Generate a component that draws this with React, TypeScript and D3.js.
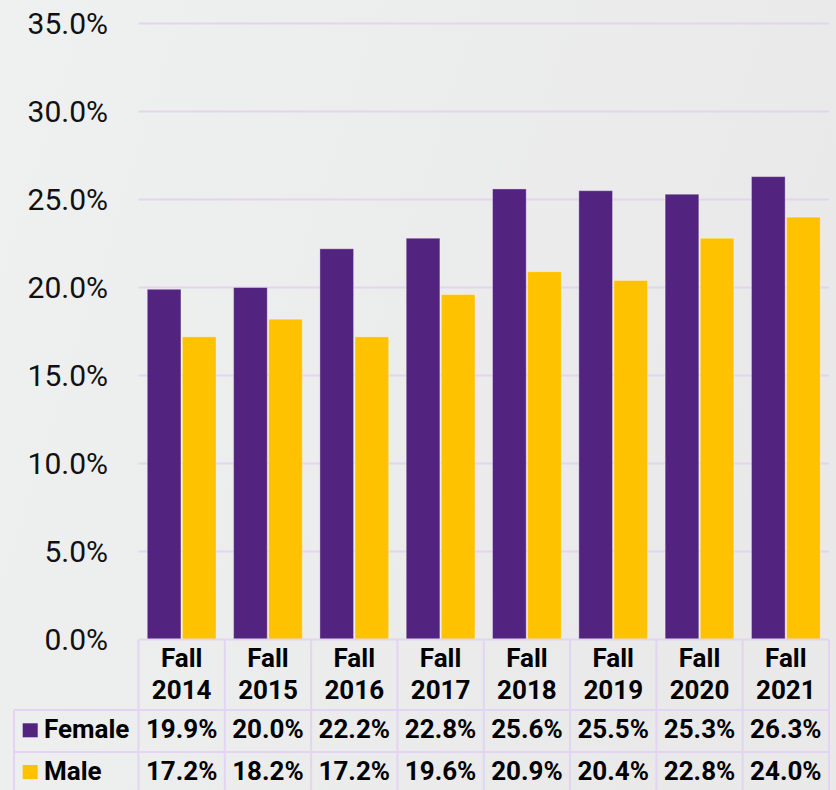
import React from "react";
import * as d3 from "d3";

const categories = ["Fall 2014", "Fall 2015", "Fall 2016", "Fall 2017", "Fall 2018", "Fall 2019", "Fall 2020", "Fall 2021"];
const seriesNames = ["Female", "Male"];
const femaleValues = [19.9, 20.0, 22.2, 22.8, 25.6, 25.5, 25.3, 26.3];
const maleValues = [17.2, 18.2, 17.2, 19.6, 20.9, 20.4, 22.8, 24.0];
const yTicks = [0, 5, 10, 15, 20, 25, 30, 35];
const colors = ["#52237f", "#ffc200"];

const W = 836;
const H = 790;
const plotLeft = 138.5;
const plotRight = 829;
const plotTop = 23.5;
const plotBottom = 639.5;
const legendLeft = 14;
const headerBottom = 710;
const row1Bottom = 752;
const row2Bottom = 800;
const gridColor = "#e2d4f2";

export default function App() {
  const x = d3.scaleBand<string>().domain(categories).range([plotLeft, plotRight]).paddingInner(0).paddingOuter(0);
  const x1 = d3.scaleBand<string>().domain(seriesNames).range([0, x.bandwidth()]).paddingInner(0.04).paddingOuter(0.25);
  const y = d3.scaleLinear().domain([0, 35]).range([plotBottom, plotTop]);
  const fmt = (v: number) => d3.format(".1f")(v) + "%";
  const series = [femaleValues, maleValues];
  const font = "Roboto, 'Noto Sans', sans-serif";

  return (
    <svg width={W} height={H} style={{ position: "absolute", left: 0, top: 0, display: "block" }} fontFamily={font}>
      <defs>
        <linearGradient id="bg" x1="0" y1="0" x2="1" y2="0.3">
          <stop offset="0" stopColor="#eff0f0" />
          <stop offset="1" stopColor="#e9e9e9" />
        </linearGradient>
      </defs>
      <rect x={0} y={0} width={W} height={H} fill="url(#bg)" />
      {yTicks.map((t) => (
        <g key={t}>
          {t > 0 && <line x1={plotLeft} x2={plotRight} y1={y(t)} y2={y(t)} stroke={gridColor} strokeWidth={2} />}
          <text x={108} y={y(t)} dy="0.36em" textAnchor="end" fontSize={30} fill="#111">
            {fmt(t)}
          </text>
        </g>
      ))}
      {categories.map((c, i) => (
        <g key={c} transform={`translate(${x(c)},0)`}>
          {seriesNames.map((s, j) => (
            <rect
              key={s}
              x={x1(s)}
              y={y(series[j][i])}
              width={x1.bandwidth()}
              height={plotBottom - y(series[j][i])}
              fill={colors[j]}
              stroke="rgba(255,255,255,0.35)"
              strokeWidth={1}
            />
          ))}
        </g>
      ))}
      {/* table */}
      <g stroke={gridColor} strokeWidth={2} fill="none">
        <line x1={plotLeft} x2={plotRight} y1={plotBottom} y2={plotBottom} />
        <line x1={legendLeft} x2={plotRight} y1={headerBottom} y2={headerBottom} />
        <line x1={legendLeft} x2={plotRight} y1={row1Bottom} y2={row1Bottom} />
        <line x1={legendLeft} x2={legendLeft} y1={headerBottom} y2={row2Bottom} />
        {categories.map((c) => (
          <line key={c} x1={x(c)} x2={x(c)} y1={plotBottom} y2={row2Bottom} />
        ))}
        <line x1={plotRight} x2={plotRight} y1={plotBottom} y2={row2Bottom} />
      </g>
      {categories.map((c) => {
        const parts = c.split(" ");
        const cx = (x(c) as number) + x.bandwidth() / 2;
        return (
          <g key={c} fontWeight="bold" fontSize={26} fill="#000" textAnchor="middle">
            <text x={cx} y={666.5}>{parts[0]}</text>
            <text x={cx} y={699.3}>{parts[1]}</text>
          </g>
        );
      })}
      {seriesNames.map((s, j) => {
        const base = j === 0 ? 738.3 : 780;
        return (
          <g key={s}>
            <rect x={22.7} y={base - 15} width={15} height={14} fill={colors[j]} />
            <text x={44} y={base} fontSize={26} fontWeight="bold" fill="#000">{s}</text>
            {categories.map((c, i) => (
              <text key={c} x={(x(c) as number) + x.bandwidth() / 2} y={base} fontSize={26} fontWeight="bold" textAnchor="middle" fill="#000">
                {fmt(series[j][i])}
              </text>
            ))}
          </g>
        );
      })}
    </svg>
  );
}
